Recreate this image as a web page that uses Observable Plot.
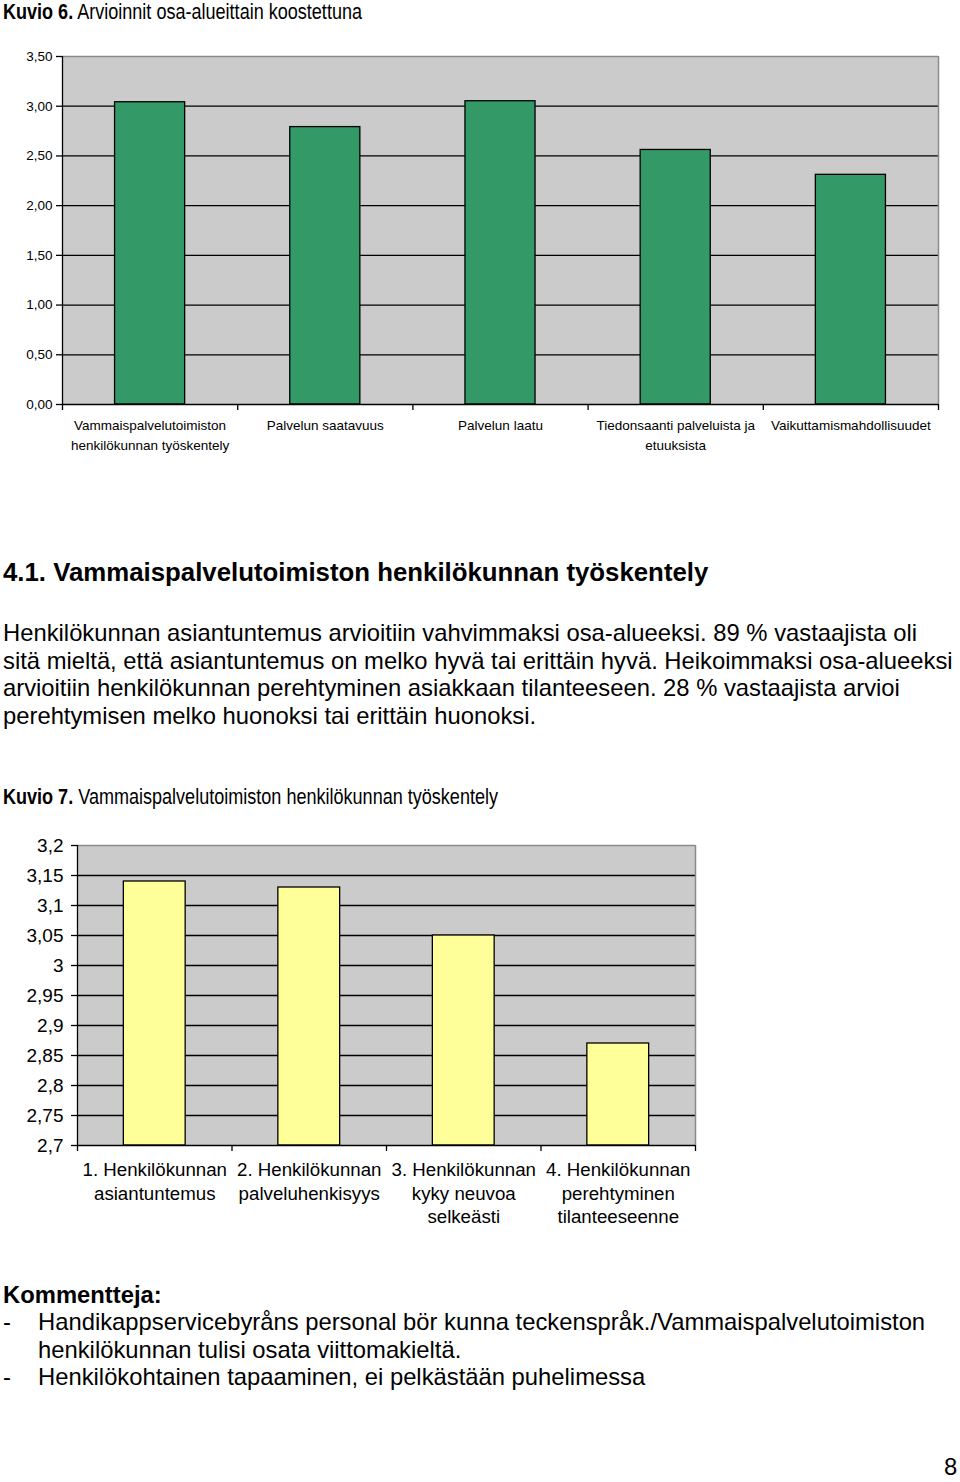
<!DOCTYPE html>
<html>
<head>
<meta charset="utf-8">
<script src="https://cdn.jsdelivr.net/npm/d3@7"></script>
<script src="https://cdn.jsdelivr.net/npm/@observablehq/plot@0.6"></script>
<style>
  html, body { margin: 0; padding: 0; background: #fff; }
  #page { position: relative; width: 960px; height: 1482px; overflow: hidden; font-family: "Liberation Sans", Arial, sans-serif; color: #000; }
  .abs { position: absolute; white-space: nowrap; }
  .narrow { transform: scaleX(0.82); transform-origin: 0 0; }
  .body { font-size: 23.8px; line-height: 27.7px; }
  .list { font-size: 23.8px; line-height: 27.5px; }
  .list div { position: relative; padding-left: 35px; }
  .list div span.d { position: absolute; left: 0; }
</style>
</head>
<body>
<div id="page">
  <div class="abs narrow" style="left:3px; top:-1px; font-size:22px; line-height:26px;"><b>Kuvio 6.</b> Arvioinnit osa-alueittain koostettuna</div>
  <div id="chart1" class="abs" style="left:0; top:40px;"></div>

  <div class="abs" style="left:3px; top:557px; font-size:25.8px; line-height:30px; font-weight:bold;">4.1. Vammaispalvelutoimiston henkilökunnan työskentely</div>
  <div class="abs body" style="left:3px; top:619px;">
    Henkilökunnan asiantuntemus arvioitiin vahvimmaksi osa-alueeksi. 89 % vastaajista oli<br>
    sitä mieltä, että asiantuntemus on melko hyvä tai erittäin hyvä. Heikoimmaksi osa-alueeksi<br>
    arvioitiin henkilökunnan perehtyminen asiakkaan tilanteeseen. 28 % vastaajista arvioi<br>
    perehtymisen melko huonoksi tai erittäin huonoksi.
  </div>

  <div class="abs narrow" style="left:3px; top:784px; font-size:22px; line-height:26px;"><b>Kuvio 7.</b> Vammaispalvelutoimiston henkilökunnan työskentely</div>
  <div id="chart2" class="abs" style="left:0; top:830px;"></div>

  <div class="abs" style="left:3px; top:1281px; font-size:23.8px; line-height:27px; font-weight:bold;">Kommentteja:</div>
  <div class="abs list" style="left:3px; top:1308px;">
    <div><span class="d">-</span>Handikappservicebyråns personal bör kunna teckenspråk./Vammaispalvelutoimiston<br>henkilökunnan tulisi osata viittomakieltä.</div>
    <div><span class="d">-</span>Henkilökohtainen tapaaminen, ei pelkästään puhelimessa</div>
  </div>

  <div class="abs" style="left:944px; top:1455px; font-size:23.8px; line-height:24px;">8</div>
</div>
<script>
// ---- Chart 1 data ----
const cats1 = [
  "Vammaispalvelutoimiston\nhenkilökunnan työskentely",
  "Palvelun saatavuus",
  "Palvelun laatu",
  "Tiedonsaanti palveluista ja\netuuksista",
  "Vaikuttamismahdollisuudet"
];
const vals1 = [3.04, 2.79, 3.05, 2.56, 2.31];
const yTicks1 = [0, 0.5, 1, 1.5, 2, 2.5, 3, 3.5];

// ---- Chart 2 data ----
const cats2 = [
  "1. Henkilökunnan\nasiantuntemus",
  "2. Henkilökunnan\npalveluhenkisyys",
  "3. Henkilökunnan\nkyky neuvoa\nselkeästi",
  "4. Henkilökunnan\nperehtyminen\ntilanteeseenne"
];
const vals2 = [3.14, 3.13, 3.05, 2.87];
const yTicks2 = [2.7, 2.75, 2.8, 2.85, 2.9, 2.95, 3, 3.05, 3.1, 3.15, 3.2];

function makeChart({cats, vals, yTicks, fmt, fill, width, height, ml, mr, mt, mb, tickFont, tickPad, labelFont, labelDy, labelLH, gridW}) {
  const data = cats.map((c, i) => ({i, c, v: vals[i]}));
  const n = cats.length;
  const y0 = yTicks[0], y1 = yTicks[yTicks.length - 1];
  return Plot.plot({
    width, height,
    marginLeft: ml, marginRight: mr, marginTop: mt, marginBottom: mb,
    style: {fontFamily: "'Liberation Sans', Arial, sans-serif", background: "transparent", color: "#000"},
    x: {domain: [0, n], axis: null},
    y: {domain: [y0, y1], axis: null},
    marks: [
      Plot.frame({fill: "#cbcbcb", stroke: null}),
      Plot.ruleY(yTicks.slice(1, -1), {stroke: "#000", strokeWidth: gridW}),
      Plot.rectY(data, {x1: d => d.i + 0.3, x2: d => d.i + 0.7, y1: y0, y2: "v", fill, stroke: "#000", strokeWidth: 1.3}),
      Plot.ruleY([y1], {stroke: "#8a8a8a", strokeWidth: 1.5}),
      Plot.ruleX([n], {stroke: "#8a8a8a", strokeWidth: 1.5}),
      Plot.ruleX([0], {stroke: "#000", strokeWidth: 1.3}),
      Plot.ruleY([y0], {stroke: "#000", strokeWidth: 1.3}),
      Plot.axisY({ticks: yTicks, tickFormat: fmt, label: null, tickSize: 6, tickPadding: tickPad, fontSize: tickFont, stroke: "#000", fill: "#000", strokeWidth: 1.3}),
      Plot.axisX({ticks: d3.range(0, n + 1), tickFormat: () => "", label: null, tickSize: 6, stroke: "#000", strokeWidth: 1.3}),
      Plot.text(data, {x: d => d.i + 0.5, text: "c", frameAnchor: "bottom", lineAnchor: "top", dy: labelDy, lineHeight: labelLH, fontSize: labelFont, fill: "#000"})
    ]
  });
}

document.getElementById("chart1").append(makeChart({
  cats: cats1, vals: vals1, yTicks: yTicks1,
  fmt: d => d.toFixed(2).replace(".", ","),
  fill: "#339966", width: 960, height: 424, ml: 62, mr: 22, mt: 16, mb: 60,
  tickFont: 13.5, tickPad: 4, labelFont: 13.5, labelDy: 11, labelLH: 1.48, gridW: 1.3
}));

document.getElementById("chart2").append(makeChart({
  cats: cats2, vals: vals2, yTicks: yTicks2,
  fmt: d => String(+d.toFixed(2)).replace(".", ","),
  fill: "#ffff99", width: 720, height: 405, ml: 77, mr: 25, mt: 15, mb: 90,
  tickFont: 19, tickPad: 8, labelFont: 18.7, labelDy: 14, labelLH: 1.26, gridW: 1.5
}));
</script>
</body>
</html>
